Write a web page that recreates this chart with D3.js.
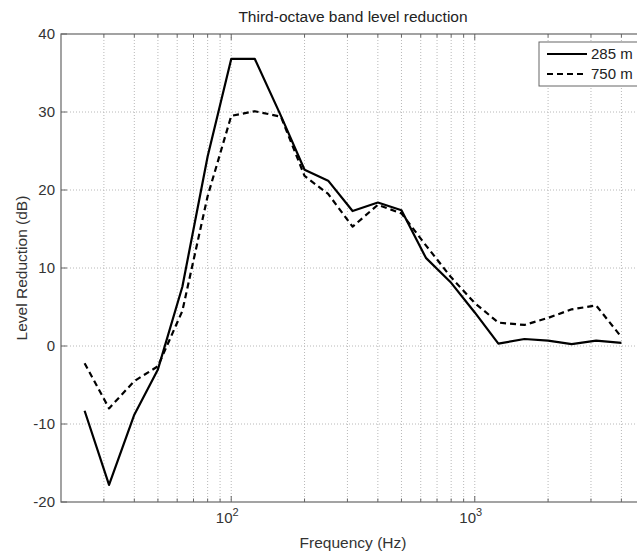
<!DOCTYPE html>
<html>
<head>
<meta charset="utf-8">
<script src="https://cdn.jsdelivr.net/npm/d3@7"></script>
<style>
  body { margin: 0; background: #fff; }
  svg { display: block; font-family: "Liberation Sans", Arial, sans-serif; }
  .grid line { stroke: #b8b8b8; stroke-width: 1; stroke-dasharray: 1,2; }
</style>
</head>
<body>
<svg id="chart" width="637" height="552"></svg>
<script>
// third-octave band centre frequencies (Hz)
const freqs = [25, 31.5, 40, 50, 63, 80, 100, 125, 160, 200, 250, 315, 400, 500, 630, 800, 1000, 1250, 1600, 2000, 2500, 3150, 4000];
const level285 = [-8.3, -17.8, -8.8, -3.0, 7.6, 24.3, 36.8, 36.8, 29.5, 22.6, 21.2, 17.3, 18.4, 17.4, 11.3, 8.1, 4.3, 0.3, 0.9, 0.7, 0.25, 0.7, 0.4];
const level750 = [-2.2, -8.0, -4.5, -2.6, 4.5, 19.2, 29.5, 30.1, 29.4, 21.8, 19.5, 15.3, 18.1, 17.0, 12.9, 8.8, 5.5, 3.0, 2.7, 3.6, 4.7, 5.2, 1.15];
const seriesNames = ["285 m", "750 m"];
const yTicks = [-20, -10, 0, 10, 20, 30, 40];
const xMajor = [100, 1000];

(function () {
    const svg = d3.select("#chart");
    const margin = {top: 34, left: 61};
    const plotW = 584, plotH = 468;

    const x = d3.scaleLog().domain([20, 5000]).range([0, plotW]);
    const y = d3.scaleLinear().domain([-20, 40]).range([plotH, 0]);

    const g = svg.append("g").attr("transform", `translate(${margin.left},${margin.top})`);

    // every 1-9 multiple per decade
    const gridX = [];
    [10, 100, 1000].forEach(dec => {
        for (let k = 1; k <= 9; k++) {
            const f = dec * k;
            if (f > 20 && f < 5000) gridX.push(f);
        }
    });

    const grid = g.append("g").attr("class", "grid");
    grid.selectAll(".gx").data(gridX).join("line")
        .attr("x1", d => x(d)).attr("x2", d => x(d))
        .attr("y1", 0).attr("y2", plotH);
    grid.selectAll(".gy").data(yTicks.filter(t => t > -20 && t < 40)).join("line")
        .attr("x1", 0).attr("x2", plotW)
        .attr("y1", d => y(d)).attr("y2", d => y(d));

    // frame (MATLAB style box)
    g.append("rect")
        .attr("width", plotW).attr("height", plotH)
        .attr("fill", "none").attr("stroke", "#666").attr("stroke-width", 1.2);

    // inward ticks
    g.selectAll(".tb").data(gridX).join("line")
        .attr("x1", d => x(d)).attr("x2", d => x(d))
        .attr("y1", plotH).attr("y2", d => plotH - (xMajor.includes(d) ? 6 : 3.5))
        .attr("stroke", "#666");
    g.selectAll(".tt").data(gridX).join("line")
        .attr("x1", d => x(d)).attr("x2", d => x(d))
        .attr("y1", 0).attr("y2", d => (xMajor.includes(d) ? 6 : 3.5))
        .attr("stroke", "#666");
    g.selectAll(".tl").data(yTicks).join("line")
        .attr("x1", 0).attr("x2", 6)
        .attr("y1", d => y(d)).attr("y2", d => y(d))
        .attr("stroke", "#666");

    // tick labels
    g.selectAll(".yl").data(yTicks).join("text")
        .attr("x", -6).attr("y", d => y(d)).attr("dy", "0.35em")
        .attr("text-anchor", "end").attr("font-size", 15).attr("fill", "#333")
        .text(d => d);

    const xl = g.selectAll(".xl").data(xMajor).join("text")
        .attr("x", d => x(d) - 4).attr("y", plotH + 21)
        .attr("text-anchor", "middle").attr("font-size", 15).attr("fill", "#333");
    xl.append("tspan").text("10");
    xl.append("tspan").attr("dy", -7).attr("font-size", 11).text(d => Math.log10(d));

    // axis titles
    svg.append("text")
        .attr("x", margin.left + plotW / 2).attr("y", 22)
        .attr("text-anchor", "middle").attr("font-size", 15.5).attr("fill", "#222")
        .text("Third-octave band level reduction");
    svg.append("text")
        .attr("x", margin.left + plotW / 2).attr("y", 548)
        .attr("text-anchor", "middle").attr("font-size", 15.5).attr("fill", "#333")
        .text("Frequency (Hz)");
    svg.append("text")
        .attr("transform", `translate(27,${margin.top + plotH / 2}) rotate(-90)`)
        .attr("text-anchor", "middle").attr("font-size", 15.5).attr("fill", "#333")
        .text("Level Reduction (dB)");

    // lines
    const line = d3.line().x(d => x(d[0])).y(d => y(d[1]));
    const series = [
        {name: seriesNames[0], values: level285, dash: null},
        {name: seriesNames[1], values: level750, dash: "6,4"}
    ];
    g.selectAll(".series").data(series).join("path")
        .attr("d", s => line(freqs.map((f, i) => [f, s.values[i]])))
        .attr("fill", "none").attr("stroke", "#000").attr("stroke-width", 2.2)
        .attr("stroke-linejoin", "round")
        .attr("stroke-dasharray", s => s.dash);

    // legend
    const lg = svg.append("g").attr("transform", "translate(539,42)");
    lg.append("rect").attr("width", 110).attr("height", 44)
        .attr("fill", "#fff").attr("stroke", "#666").attr("stroke-width", 1);
    series.forEach((s, i) => {
        const ly = 12 + i * 20;
        lg.append("line").attr("x1", 8).attr("x2", 48).attr("y1", ly).attr("y2", ly)
            .attr("stroke", "#000").attr("stroke-width", 2.2)
            .attr("stroke-dasharray", s.dash);
        lg.append("text").attr("x", 52).attr("y", ly).attr("dy", "0.35em")
            .attr("font-size", 15).attr("fill", "#222").text(s.name);
    });
})();
</script>
</body>
</html>
